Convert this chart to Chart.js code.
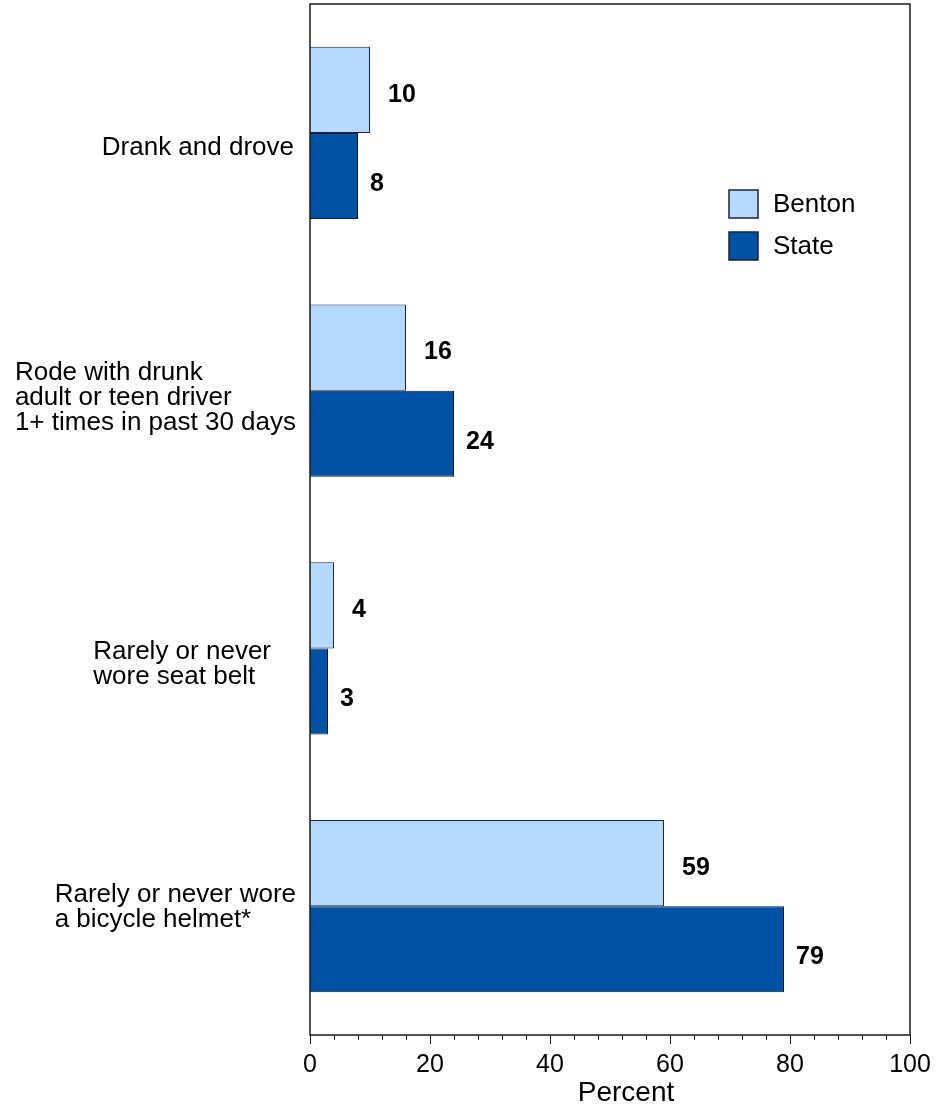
<!DOCTYPE html>
<html>
<head>
<meta charset="utf-8">
<script src="https://cdn.jsdelivr.net/npm/chart.js@4"></script>
<style>
  body { margin: 0; background: #fff; }
  canvas { display: block; }
</style>
</head>
<body>
<canvas id="chart" width="943" height="1111"></canvas>
<script>
// Data
const categories = [
  ['Drank and drove'],
  ['Rode with drunk', 'adult or teen driver', '1+ times in past 30 days'],
  ['Rarely or never', 'wore seat belt'],
  ['Rarely or never wore', 'a bicycle helmet*']
];
const bentonValues = [10, 16, 4, 59];
const stateValues = [8, 24, 3, 79];
const seriesNames = ['Benton', 'State'];
const xTicks = [0, 20, 40, 60, 80, 100];
const xTitle = 'Percent';

const FONT = 'Arial, "Liberation Sans", sans-serif';

// Category labels, value labels, legend, frame, axis ticks and axis title
const decorations = {
  id: 'decorations',
  afterDatasetsDraw(chart, args, opts) {
    const ctx = chart.ctx;
    const area = chart.chartArea;
    const x = chart.scales.x;
    const y = chart.scales.y;

    ctx.save();
    // frame
    ctx.strokeStyle = '#1a1a1a';
    ctx.lineWidth = 1.5;
    ctx.strokeRect(area.left, area.top, area.right - area.left, area.bottom - area.top);

    // ticks along the bottom, minor every 4, major every 20
    ctx.lineWidth = 1;
    for (let v = 0; v <= 100; v += 4) {
      const px = Math.round(x.getPixelForValue(v)) + 0.5;
      ctx.beginPath();
      ctx.moveTo(px, area.bottom);
      ctx.lineTo(px, area.bottom + (v % 20 === 0 ? 9 : 5));
      ctx.stroke();
    }

    // category labels: lines left aligned, block placed left of the axis
    ctx.fillStyle = '#000';
    ctx.font = '26px ' + FONT;
    ctx.textBaseline = 'middle';
    ctx.textAlign = 'left';
    categories.forEach((lines, i) => {
      const widest = Math.max(...lines.map(l => ctx.measureText(l).width));
      const left = opts.labelRight[i] - widest;
      const cy = y.getPixelForValue(i) + opts.labelDy[i];
      const lh = 25;
      lines.forEach((l, j) => {
        ctx.fillText(l, left, cy + (j - (lines.length - 1) / 2) * lh);
      });
    });

    // value labels
    ctx.font = 'bold 25px ' + FONT;
    chart.data.datasets.forEach((ds, di) => {
      const meta = chart.getDatasetMeta(di);
      meta.data.forEach((bar, i) => {
        ctx.fillText(String(ds.data[i]), bar.x + opts.valueDx[di], bar.y + opts.valueDy[di]);
      });
    });

    // legend
    ctx.font = '26px ' + FONT;
    chart.data.datasets.forEach((ds, di) => {
      const top = 190 + di * 42;
      ctx.fillStyle = ds.backgroundColor;
      ctx.fillRect(729, top, 29, 28);
      ctx.strokeStyle = '#1a2340';
      ctx.lineWidth = 1.5;
      ctx.strokeRect(729, top, 29, 28);
      ctx.fillStyle = '#000';
      ctx.fillText(ds.label, 773, top + 15);
    });

    // axis title (sits a bit right of the plot centre in the original)
    ctx.font = '28px ' + FONT;
    ctx.textAlign = 'center';
    ctx.fillText(xTitle, 626, 1093);
    ctx.restore();
  }
};

new Chart(document.getElementById('chart'), {
  type: 'bar',
  data: {
    labels: categories.map(c => c.join(' ')),
    datasets: [
      {
        label: seriesNames[0],
        data: bentonValues,
        backgroundColor: '#b5d9fd',
        borderColor: '#1a2340',
        borderWidth: 1
      },
      {
        label: seriesNames[1],
        data: stateValues,
        backgroundColor: '#0052a4',
        borderColor: '#0d1a33',
        borderWidth: 1
      }
    ]
  },
  options: {
    indexAxis: 'y',
    responsive: false,
    animation: false,
    events: [],
    categoryPercentage: 0.668,
    barPercentage: 1,
    layout: { padding: { left: 310, right: 33, top: 4, bottom: 0 } },
    plugins: {
      legend: { display: false },
      tooltip: { enabled: false },
      decorations: {
        labelRight: [294, 296, 271, 296],
        labelDy: [15, 7, 16, 1],
        valueDx: [18, 12],
        valueDy: [5, 8]
      }
    },
    scales: {
      x: {
        min: 0,
        max: 100,
        afterBuildTicks(scale) {
          scale.ticks = xTicks.map(v => ({ value: v }));
        },
        afterFit(scale) {
          scale.height = 76;
          // let the last tick label run to the edge instead of shrinking the plot
          scale.paddingLeft = 0;
          scale.paddingRight = 0;
        },
        grid: { display: false, drawTicks: false },
        border: { display: false },
        ticks: {
          color: '#000',
          padding: 15,
          maxRotation: 0,
          autoSkip: false,
          font: { family: FONT, size: 25 }
        }
      },
      y: {
        display: false
      }
    }
  },
  plugins: [decorations]
});
</script>
</body>
</html>
